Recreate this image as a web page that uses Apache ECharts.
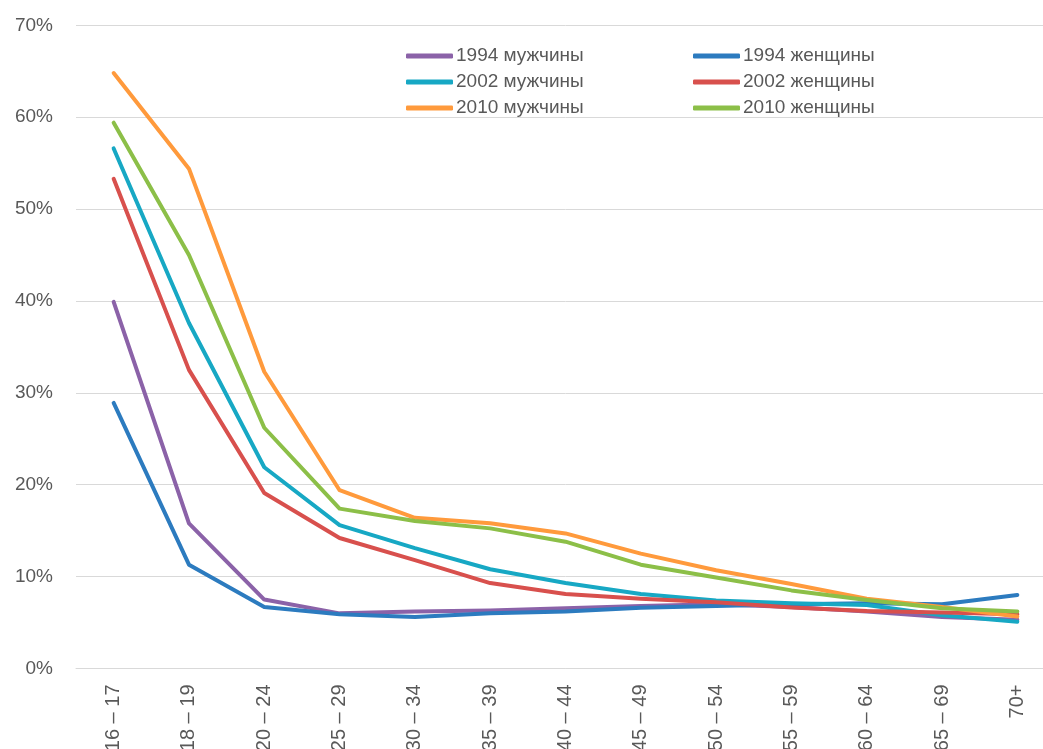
<!DOCTYPE html>
<html>
<head>
<meta charset="utf-8">
<script src="https://cdn.jsdelivr.net/npm/echarts@6/dist/echarts.min.js"></script>
<style>
html,body{margin:0;padding:0;background:#fff;overflow:hidden;width:1043px;height:749px;}
#chart{width:1056px;height:749px;}
</style>
</head>
<body>
<div id="chart"></div>
<script>
const categories = ['16 – 17','18 – 19','20 – 24','25 – 29','30 – 34','35 – 39','40 – 44','45 – 49','50 – 54','55 – 59','60 – 64','65 – 69','70+'];
const yTicks = [0,10,20,30,40,50,60,70];
const names = ['1994 мужчины','1994 женщины','2002 мужчины','2002 женщины','2010 мужчины','2010 женщины'];
const men1994   = [39.9, 15.8, 7.5, 6.0, 6.2, 6.3, 6.55, 6.8, 7.0, 6.7, 6.2, 5.6, 5.3];
const women1994 = [28.9, 11.3, 6.7, 5.9, 5.6, 6.0, 6.2, 6.6, 6.8, 7.0, 7.1, 7.0, 8.0];
const men2002   = [56.6, 37.6, 21.9, 15.6, 13.1, 10.8, 9.3, 8.1, 7.4, 7.1, 6.9, 5.8, 5.1];
const women2002 = [53.3, 32.5, 19.1, 14.2, 11.8, 9.3, 8.1, 7.6, 7.2, 6.65, 6.25, 6.1, 5.9];
const men2010   = [64.8, 54.4, 32.3, 19.4, 16.4, 15.8, 14.7, 12.5, 10.7, 9.2, 7.6, 6.7, 5.65];
const women2010 = [59.4, 45.0, 26.2, 17.4, 16.05, 15.25, 13.8, 11.3, 9.9, 8.5, 7.45, 6.55, 6.2];
const colors = ['#8B62A8','#2C7BBF','#17A8C4','#D8504D','#FF9A3C','#8CBF48'];
const seriesData = [men1994, women1994, men2002, women2002, men2010, women2010];

const font = 'Liberation Sans';
const chart = echarts.init(document.getElementById('chart'));
const legendCommon = {
  orient: 'vertical',
  icon: 'roundRect',
  itemWidth: 47,
  itemHeight: 5,
  itemGap: 6,
  textStyle: {fontFamily: font, fontSize: 19, color: '#595959', lineHeight: 20, padding: [0,0,0,-2]},
  selectedMode: false
};
chart.setOption({
  animation: false,
  color: colors,
  grid: {left: 76, top: 25.3, width: 979, height: 643.2, containLabel: false, outerBoundsMode: 'none'},
  legend: [
    Object.assign({left: 401, top: 41, data: [names[0], names[2], names[4]]}, legendCommon),
    Object.assign({left: 688, top: 41, data: [names[1], names[3], names[5]]}, legendCommon)
  ],
  xAxis: {
    type: 'category',
    data: categories,
    boundaryGap: true,
    axisLine: {show: true, lineStyle: {color: '#d9d9d9', width: 1}},
    axisTick: {show: false},
    axisLabel: {rotate: 90, margin: 16, fontFamily: font, fontSize: 20, color: '#595959', interval: 0}
  },
  yAxis: {
    type: 'value',
    min: yTicks[0],
    max: yTicks[yTicks.length-1],
    interval: 10,
    axisLine: {show: false},
    axisTick: {show: false},
    axisLabel: {formatter: '{value}%', margin: 23, fontFamily: font, fontSize: 19, color: '#595959'},
    splitLine: {lineStyle: {color: '#d9d9d9', width: 1}}
  },
  series: names.map((n, i) => ({
    name: n,
    type: 'line',
    data: seriesData[i],
    symbol: 'none',
    lineStyle: {width: 4, color: colors[i], cap: 'round', join: 'round'},
    itemStyle: {color: colors[i]}
  }))
});
</script>
</body>
</html>
